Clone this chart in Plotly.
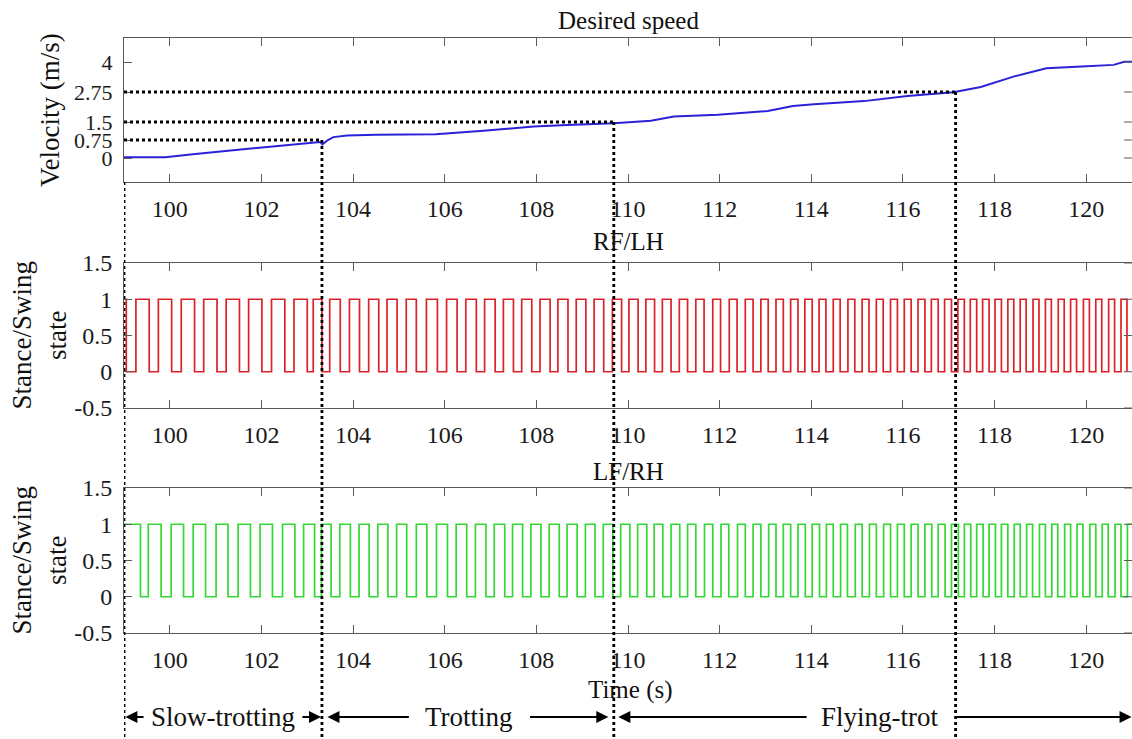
import plotly.graph_objects as go

# ---------------- data ----------------
vel_t = [99.0, 99.9, 100.5, 101.0, 101.5, 102.0, 102.5, 103.0, 103.28, 103.33, 103.45, 103.57,
         103.87, 104.5, 105.03, 105.8, 106.85, 107.94, 108.68, 109.69, 110.5, 111.0, 111.96,
         113.05, 113.6, 114.06, 115.15, 116.1, 117.1, 117.7, 118.43, 119.13, 119.9, 120.6,
         120.83, 121.0]
vel_v = [0.03, 0.03, 0.16, 0.25, 0.34, 0.44, 0.53, 0.62, 0.67, 0.57, 0.75, 0.87,
         0.94, 0.97, 0.98, 0.99, 1.14, 1.31, 1.38, 1.45, 1.55, 1.73, 1.80,
         1.96, 2.17, 2.24, 2.37, 2.58, 2.74, 2.96, 3.40, 3.74, 3.81, 3.88,
         4.01, 4.01]

# RF/LH stance/swing edges (s)
rf_start_state = 1
rf_first_fall = 99.05
rf_rise = [99.26, 99.75, 100.25, 100.74, 101.23, 101.72, 102.22, 102.71, 103.13, 103.49,
           103.92, 104.34, 104.74, 105.16, 105.60, 106.04, 106.46, 106.87, 107.28, 107.68,
           108.08, 108.47, 108.87, 109.26, 109.66, 110.02, 110.39, 110.75, 111.12, 111.48,
           111.85, 112.21, 112.56, 112.90, 113.23, 113.55, 113.86, 114.17, 114.48, 114.80,
           115.11, 115.42, 115.73, 116.03, 116.33, 116.62, 116.91, 117.20, 117.47, 117.74,
           118.01, 118.29, 118.56, 118.84, 119.11, 119.39, 119.66, 119.94, 120.21, 120.49,
           120.76]
rf_fall = [99.55, 100.04, 100.54, 101.03, 101.52, 102.01, 102.51, 103.00, 103.32, 103.72,
           104.14, 104.56, 104.96, 105.38, 105.84, 106.27, 106.69, 107.10, 107.50, 107.90,
           108.30, 108.69, 109.08, 109.47, 109.86, 110.22, 110.58, 110.94, 111.30, 111.66,
           112.02, 112.38, 112.73, 113.06, 113.39, 113.71, 114.02, 114.32, 114.63, 114.95,
           115.26, 115.57, 115.88, 116.18, 116.48, 116.77, 117.06, 117.34, 117.61, 117.88,
           118.15, 118.42, 118.69, 118.97, 119.24, 119.52, 119.79, 120.07, 120.34, 120.62,
           120.89]

# LF/RH stance/swing edges (s)
lf_start_state = 1
lf_first_fall = 99.36
lf_rise = [99.53, 100.03, 100.51, 101.01, 101.49, 101.97, 102.46, 102.92, 103.31, 103.71,
           104.13, 104.54, 104.95, 105.38, 105.82, 106.25, 106.67, 107.08, 107.48, 107.88,
           108.28, 108.67, 109.07, 109.46, 109.84, 110.21, 110.57, 110.94, 111.30, 111.67,
           112.03, 112.39, 112.73, 113.07, 113.39, 113.71, 114.02, 114.33, 114.64, 114.96,
           115.27, 115.58, 115.88, 116.18, 116.48, 116.77, 117.06, 117.34, 117.61, 117.88,
           118.15, 118.43, 118.70, 118.98, 119.25, 119.53, 119.80, 120.08, 120.35, 120.63,
           120.90]
lf_fall = [99.81, 100.30, 100.78, 101.27, 101.76, 102.24, 102.73, 103.16, 103.52, 103.94,
           104.35, 104.76, 105.17, 105.61, 106.06, 106.48, 106.90, 107.31, 107.70, 108.10,
           108.50, 108.89, 109.28, 109.67, 110.04, 110.41, 110.76, 111.13, 111.48, 111.85,
           112.20, 112.56, 112.90, 113.23, 113.55, 113.87, 114.18, 114.48, 114.79, 115.11,
           115.42, 115.73, 116.03, 116.33, 116.63, 116.92, 117.21, 117.48, 117.75, 118.02,
           118.29, 118.56, 118.83, 119.11, 119.38, 119.66, 119.93, 120.21, 120.48, 120.76,
           121.03]

phase_start = 99.0
phase_times = [103.32, 109.69, 117.15]
phase_levels = [0.75, 1.5, 2.75]
phase_names = ["Slow-trotting", "Trotting", "Flying-trot"]
phase_label_t = [101.17, 106.54, 115.50]

x_ticks = [100, 102, 104, 106, 108, 110, 112, 114, 116, 118, 120]
vel_ticks = [0, 0.75, 1.5, 2.75, 4]
vel_tick_text = ["0", "0.75", "1.5", "2.75", "4"]
state_ticks = [-0.5, 0, 0.5, 1, 1.5]
state_tick_text = ["-0.5", "0", "0.5", "1", "1.5"]
x_range = [99, 121]


def square_wave(start_state, first_fall, rises, falls, t_end):
    xs, ys = [x_range[0], first_fall, first_fall], [start_state, start_state, 0]
    for r, f in zip(rises, falls):
        f = min(f, t_end)
        xs += [r, r, f]
        ys += [0, 1, 1]
        if f < t_end:
            xs.append(f)
            ys.append(0)
    return xs, ys


rf_x, rf_y = square_wave(rf_start_state, rf_first_fall, rf_rise, rf_fall, x_range[1])
lf_x, lf_y = square_wave(lf_start_state, lf_first_fall, lf_rise, lf_fall, x_range[1])

# ---------------- figure ----------------
W, H = 1132, 739
FONT = "Liberation Serif"
AX = "#5a5a5a"


def py(px):
    return 1 - px / H


dom1 = [py(182), py(38)]
dom2 = [py(408), py(263)]
dom3 = [py(633), py(488)]

fig = go.Figure()
fig.add_trace(go.Scatter(x=vel_t, y=vel_v, mode="lines", line=dict(color="#2a22d8", width=2),
                         xaxis="x", yaxis="y", showlegend=False))
fig.add_trace(go.Scatter(x=rf_x, y=rf_y, mode="lines", line=dict(color="#dc2228", width=1.7),
                         xaxis="x2", yaxis="y2", showlegend=False))
fig.add_trace(go.Scatter(x=lf_x, y=lf_y, mode="lines", line=dict(color="#34d834", width=1.7),
                         xaxis="x3", yaxis="y3", showlegend=False))

tickfont = dict(family=FONT, size=24, color="#1a1a1a")
xcommon = dict(range=x_range, tickvals=x_ticks, ticks="inside", ticklen=8, tickcolor=AX,
               showline=True, linecolor=AX, linewidth=1, mirror="ticks", showgrid=False,
               zeroline=False, automargin=False, ticklabelstandoff=5, tickfont=tickfont)
ycommon = dict(ticks="inside", ticklen=8, tickcolor=AX, showline=True, linecolor=AX,
               linewidth=1, showgrid=False, zeroline=False, automargin=False,
               ticklabelstandoff=6)

fig.update_layout(
    width=W, height=H,
    font=dict(family=FONT, size=24, color="#1a1a1a"),
    margin=dict(l=124, r=0, t=0, b=0),
    paper_bgcolor="white", plot_bgcolor="white",
    xaxis=dict(domain=[0, 1], anchor="y", **xcommon),
    yaxis=dict(domain=dom1, anchor="x", range=[-1, 5], tickvals=vel_ticks,
               ticktext=vel_tick_text, tickfont=dict(family=FONT, size=22, color="#1a1a1a"),
               **ycommon),
    xaxis2=dict(domain=[0, 1], anchor="y2", **xcommon),
    yaxis2=dict(domain=dom2, anchor="x2", range=[-0.5, 1.5], tickvals=state_ticks,
                ticktext=state_tick_text, tickfont=tickfont, **ycommon),
    xaxis3=dict(domain=[0, 1], anchor="y3", **xcommon),
    yaxis3=dict(domain=dom3, anchor="x3", range=[-0.5, 1.5], tickvals=state_ticks,
                ticktext=state_tick_text, tickfont=tickfont, **ycommon),
)

shapes = []
dot = dict(color="black", width=2.8, dash="dot")
# left boundary line
shapes.append(dict(type="line", xref="x", yref="paper", x0=phase_start, x1=phase_start,
                   y0=dom1[0], y1=-0.02, line=dot, layer="above"))
for t, lvl in zip(phase_times, phase_levels):
    shapes.append(dict(type="line", xref="x", yref="y", x0=phase_start, x1=t, y0=lvl, y1=lvl,
                       line=dot, layer="above"))
    shapes.append(dict(type="line", xref="x", yref="y", x0=t, x1=t, y0=lvl, y1=-1,
                       line=dot, layer="above"))
    shapes.append(dict(type="line", xref="x", yref="paper", x0=t, x1=t, y0=dom1[0], y1=-0.02,
                       line=dot, layer="above"))
# mirrored right-side y ticks
for yref, vals in (("y", vel_ticks), ("y2", state_ticks), ("y3", state_ticks)):
    for v in vals:
        shapes.append(dict(type="line", xref="x domain", yref=yref, x0=0.992, x1=1.0,
                           y0=v, y1=v, line=dict(color=AX, width=1)))
fig.update_layout(shapes=shapes)

ann = []
tfont = dict(family=FONT, size=25, color="#111")
ann.append(dict(text="Desired speed", x=0.5, y=py(20), xref="paper", yref="paper",
                showarrow=False, font=tfont, xanchor="center", yanchor="middle"))
ann.append(dict(text="RF/LH", x=0.5, y=py(242), xref="paper", yref="paper",
                showarrow=False, font=tfont, xanchor="center", yanchor="middle"))
ann.append(dict(text="LF/RH", x=0.5, y=py(471), xref="paper", yref="paper",
                showarrow=False, font=tfont, xanchor="center", yanchor="middle"))
ann.append(dict(text="Time (s)", x=(630 - 124) / 1008, y=py(690), xref="paper", yref="paper",
                showarrow=False, font=tfont, xanchor="center", yanchor="middle"))
lfont = dict(family=FONT, size=27, color="#111")
ann.append(dict(text="Velocity (m/s)", x=(50 - 124) / 1008, y=py(110), xref="paper",
                yref="paper", showarrow=False, font=lfont, textangle=-90,
                xanchor="center", yanchor="middle"))
for yc in (335.5, 560.5):
    ann.append(dict(text="Stance/Swing<br>state", x=(39 - 124) / 1008, y=py(yc),
                    xref="paper", yref="paper", showarrow=False, font=lfont, textangle=-90,
                    xanchor="center", yanchor="middle"))

# phase labels with arrows
yb = py(717)
pfont = dict(family=FONT, size=27, color="#111")
arrow_pairs = [
    [(99.46, 99.03), (102.86, 103.30)],
    [(105.25, 103.44), (107.83, 109.57)],
    [(113.93, 109.79), (117.12, 120.99)],
]
for name, tc, pairs in zip(phase_names, phase_label_t, arrow_pairs):
    ann.append(dict(text=name, x=tc, y=yb, xref="x", yref="paper", showarrow=False,
                    font=pfont, xanchor="center", yanchor="middle"))
    for tail, head in pairs:
        ann.append(dict(text="", x=head, y=yb, xref="x", yref="paper", ax=tail, ay=0,
                        axref="x", ayref="pixel", showarrow=True, arrowhead=2,
                        arrowsize=1.2, arrowwidth=2, arrowcolor="black"))
fig.update_layout(annotations=ann)

fig.write_html("out.html")
